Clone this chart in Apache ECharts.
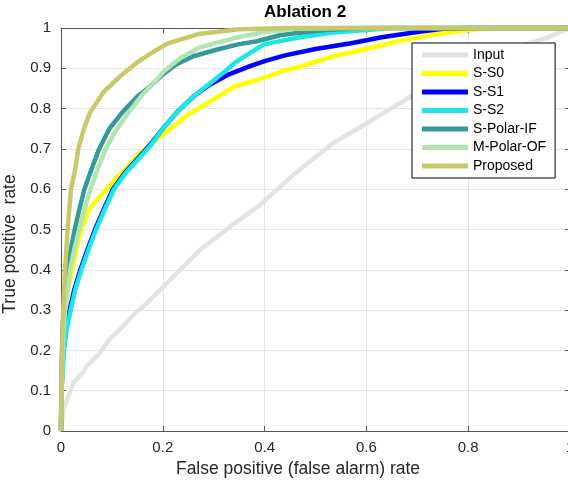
<!DOCTYPE html>
<html>
<head>
<meta charset="utf-8">
<script src="https://cdn.jsdelivr.net/npm/echarts@6/dist/echarts.min.js"></script>
<style>html,body{margin:0;padding:0;background:#fff}#c{width:568px;height:482px}</style>
</head>
<body>
<div id="c"></div>
<script>
const seriesNames = ['Input', 'S-S0', 'S-S1', 'S-S2', 'S-Polar-IF', 'M-Polar-OF', 'Proposed'];
const seriesColors = ['#e3e3e3', '#ffff00', '#0000ff', '#1de6e6', '#349b98', '#b2e5b2', '#c9c96a'];

const inputROC = [[0,0],[0.0045,0.052],[0.024,0.119],[0.044,0.146],[0.05,0.16],[0.076,0.193],[0.096,0.229],[0.109,0.243],[0.148,0.296],[0.161,0.308],[0.201,0.358],[0.273,0.449],[0.332,0.507],[0.39,0.56],[0.456,0.635],[0.534,0.714],[0.6,0.763],[0.665,0.813],[0.69,0.832],[0.776,0.878],[0.84,0.92],[0.9,0.955],[0.953,0.975],[0.99,0.995],[1,1]];
const ss0ROC = [[0,0],[0.001,0.1],[0.004,0.2],[0.008,0.3],[0.014,0.35],[0.022,0.4],[0.03,0.45],[0.04,0.5],[0.055,0.55],[0.075,0.58],[0.09,0.6],[0.11,0.63],[0.13,0.655],[0.155,0.69],[0.195,0.73],[0.25,0.785],[0.29,0.815],[0.34,0.854],[0.4,0.877],[0.44,0.895],[0.47,0.904],[0.53,0.928],[0.6,0.948],[0.665,0.968],[0.73,0.983],[0.8,0.995],[0.85,1],[1,1]];
const ss1ROC = [[0,0],[0.001,0.1],[0.004,0.2],[0.009,0.25],[0.017,0.3],[0.026,0.35],[0.038,0.4],[0.052,0.45],[0.067,0.5],[0.084,0.55],[0.102,0.6],[0.125,0.64],[0.15,0.675],[0.175,0.71],[0.2,0.75],[0.227,0.79],[0.26,0.83],[0.293,0.86],[0.33,0.885],[0.37,0.905],[0.4,0.918],[0.44,0.932],[0.5,0.948],[0.57,0.962],[0.63,0.977],[0.7,0.99],[0.75,0.998],[0.8,1],[1,1]];
const ss2ROC = [[0,0],[0.001,0.1],[0.006,0.2],[0.011,0.25],[0.019,0.3],[0.028,0.35],[0.04,0.4],[0.054,0.45],[0.069,0.5],[0.086,0.55],[0.104,0.6],[0.127,0.64],[0.152,0.675],[0.177,0.71],[0.2,0.75],[0.227,0.79],[0.26,0.83],[0.29,0.86],[0.32,0.89],[0.34,0.912],[0.37,0.937],[0.4,0.96],[0.47,0.977],[0.53,0.988],[0.6,0.995],[0.65,1],[1,1]];
const polarIFROC = [[0,0],[0.001,0.15],[0.003,0.25],[0.005,0.3],[0.009,0.35],[0.013,0.4],[0.019,0.45],[0.027,0.5],[0.036,0.55],[0.046,0.6],[0.06,0.65],[0.075,0.7],[0.095,0.75],[0.12,0.79],[0.15,0.83],[0.175,0.855],[0.2,0.885],[0.227,0.91],[0.26,0.93],[0.305,0.946],[0.35,0.96],[0.385,0.967],[0.43,0.982],[0.46,0.987],[0.52,0.995],[0.6,1],[1,1]];
const polarOFROC = [[0,0],[0.002,0.15],[0.005,0.25],[0.008,0.3],[0.013,0.35],[0.018,0.4],[0.026,0.45],[0.036,0.5],[0.046,0.55],[0.058,0.6],[0.072,0.65],[0.088,0.7],[0.105,0.74],[0.13,0.785],[0.16,0.835],[0.18,0.86],[0.2,0.89],[0.234,0.925],[0.273,0.952],[0.34,0.975],[0.4,0.99],[0.46,0.998],[0.55,1],[1,1]];
const proposedROC = [[0,0],[0.001,0.1],[0.002,0.2],[0.0045,0.3],[0.008,0.4],[0.013,0.5],[0.0196,0.6],[0.028,0.65],[0.034,0.7],[0.045,0.75],[0.057,0.79],[0.083,0.84],[0.116,0.88],[0.15,0.915],[0.18,0.94],[0.21,0.962],[0.27,0.985],[0.35,0.997],[0.45,1],[1,1]];

const seriesData = [inputROC, ss0ROC, ss1ROC, ss2ROC, polarIFROC, polarOFROC, proposedROC];

const chart = echarts.init(document.getElementById('c'), null, {renderer: 'canvas'});
const font = '"Liberation Sans", Arial, Helvetica, sans-serif';
const axisColor = '#555555';
const textColor = '#262626';

const boxAxis = {
  min: 0, max: 1, interval: 0.1,
  axisLine: {show: true, onZero: false, lineStyle: {color: axisColor, width: 1}},
  axisTick: {show: true, inside: true, length: 5, lineStyle: {color: axisColor}},
  axisLabel: {show: false},
  splitLine: {show: false}
};

chart.setOption({
  animation: false,
  backgroundColor: '#ffffff',
  textStyle: {fontFamily: font},
  title: {
    text: 'Ablation 2',
    left: 264, top: 4, padding: 0,
    textStyle: {fontFamily: font, fontSize: 17, fontWeight: 'bold', color: '#000'}
  },
  grid: {left: 61, top: 28, right: -2, bottom: 51, containLabel: false, outerBoundsMode: 'none'},
  legend: {
    orient: 'vertical',
    left: 412, top: 43,
    padding: [5, 9, 5, 10],
    backgroundColor: '#ffffff',
    borderColor: '#000000', borderWidth: 1, borderRadius: 0,
    icon: 'rect',
    itemWidth: 46, itemHeight: 5, itemGap: 4.5,
    textStyle: {fontFamily: font, fontSize: 14, lineHeight: 14, color: '#000'},
    data: seriesNames
  },
  xAxis: [{
    type: 'value', min: 0, max: 1, interval: 0.2,
    name: 'False positive (false alarm) rate',
    nameLocation: 'middle', nameGap: 28,
    nameTextStyle: {fontFamily: font, fontSize: 17.5, color: textColor, padding: [0, 35, 0, 0]},
    axisLine: {show: true, onZero: false, lineStyle: {color: axisColor, width: 1}},
    axisTick: {show: true, inside: true, length: 5, lineStyle: {color: axisColor}},
    axisLabel: {fontFamily: font, fontSize: 15, color: textColor, margin: 9},
    splitLine: {show: true, lineStyle: {color: '#e6e6e6', width: 1}}
  }, Object.assign({}, boxAxis, {type: 'value', position: 'top', interval: 0.2})],
  yAxis: [{
    type: 'value', min: 0, max: 1, interval: 0.1,
    name: 'True positive  rate',
    nameLocation: 'middle', nameGap: 36,
    nameTextStyle: {fontFamily: font, fontSize: 17.5, color: textColor, padding: [0, 29, 0, 0]},
    axisLine: {show: true, onZero: false, lineStyle: {color: axisColor, width: 1}},
    axisTick: {show: true, inside: true, length: 5, lineStyle: {color: axisColor}},
    axisLabel: {fontFamily: font, fontSize: 15, color: textColor, margin: 10},
    splitLine: {show: true, lineStyle: {color: '#e6e6e6', width: 1}}
  }, Object.assign({}, boxAxis, {type: 'value', position: 'right'})],
  series: seriesNames.map((name, i) => ({
    name: name,
    type: 'line',
    data: seriesData[i],
    symbol: 'none',
    showSymbol: false,
    clip: false,
    color: seriesColors[i],
    lineStyle: {color: seriesColors[i], width: 4.5, join: 'round'},
    itemStyle: {color: seriesColors[i]},
    z: 2 + i
  }))
});
</script>
</body>
</html>
